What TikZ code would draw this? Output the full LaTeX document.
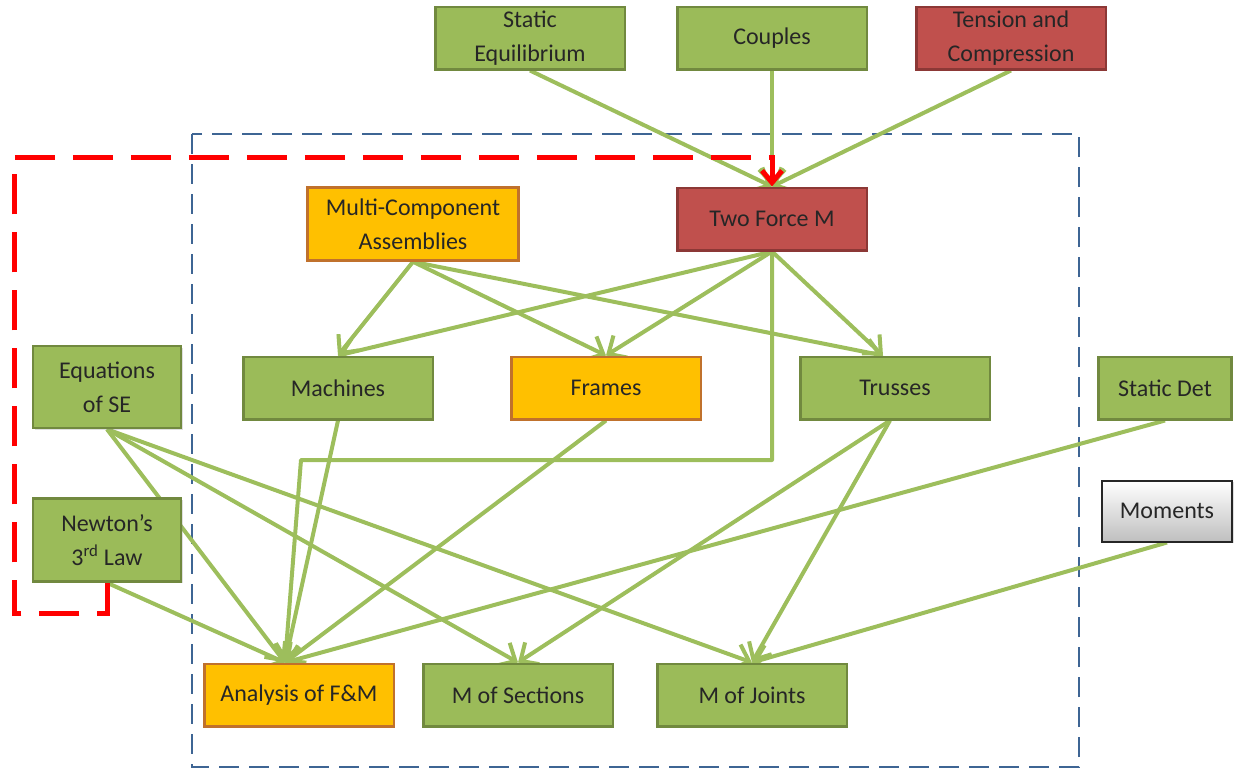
\documentclass[tikz,border=0pt]{standalone}
\usepackage{fontspec}
\setmainfont{Carlito}
\usetikzlibrary{arrows.meta,shadows}
\definecolor{boxgreen}{HTML}{9BBB59}
\definecolor{greenrim}{HTML}{71893F}
\definecolor{boxred}{HTML}{C0504D}
\definecolor{redrim}{HTML}{8C3836}
\definecolor{boxorange}{HTML}{FFC000}
\definecolor{orangerim}{HTML}{C0712C}
\definecolor{linkgreen}{HTML}{9DBE5C}
\definecolor{frameblue}{HTML}{3E6594}
\pgfdeclarelayer{edges}
\pgfdeclarelayer{back}
\pgfsetlayers{back,edges,main}
\begin{document}
\begin{tikzpicture}[x=1pt,y=-1pt,
  concept/.style={draw, line width=2.5pt, inner sep=0pt, align=center,
    font=\fontsize{24}{34}\selectfont, text=black!85,
    drop shadow={opacity=0.25,shadow xshift=1.5pt,shadow yshift=-1.5pt}},
  greenbox/.style={concept, fill=boxgreen, draw=greenrim},
  redbox/.style={concept, fill=boxred, draw=redrim},
  orangebox/.style={concept, fill=boxorange, draw=orangerim},
  graybox/.style={concept, top color=white, bottom color=black!25, draw=black!85, line width=2pt},
  wide/.style={minimum width=189.5pt, minimum height=62.5pt},
  link/.style={draw=linkgreen, line width=4pt, line join=round,
    -{Straight Barb[length=14pt,width=26pt]}},
  guide/.style={draw=red, line width=5pt, dash pattern=on 40pt off 18pt,
    -{Straight Barb[length=12pt,width=20pt]}}
]
\useasboundingbox (0,0) rectangle (1235,769);

% boxes
\node[greenbox, wide] (se) at (530,38) {Static\\Equilibrium};
\node[greenbox, wide] (cp) at (772,38) {Couples};
\node[redbox, wide] (tc) at (1011,38) {Tension and\\Compression};
\node[orangebox, minimum width=211pt, minimum height=73pt] (mca) at (413,224) {Multi-Component\\Assemblies};
\node[redbox, wide] (tfm) at (772,219) {Two Force M};
\node[greenbox, wide] (mach) at (338,388) {Machines};
\node[orangebox, wide] (fr) at (606,388) {Frames};
\node[greenbox, wide] (tr) at (895,388) {Trusses};
\node[greenbox, minimum width=148pt, minimum height=82pt] (eq) at (107,387) {Equations\\of SE};
\node[greenbox, minimum width=133pt, minimum height=62.5pt] (sd) at (1165,388) {Static Det};
\node[graybox, minimum width=130pt, minimum height=61pt] (mom) at (1167,511) {Moments};
\node[greenbox, minimum width=148pt, minimum height=83pt] (nw) at (107,540) {Newton’s\\3\textsuperscript{rd} Law};
\node[orangebox, wide] (an) at (299,695) {Analysis of F\&M};
\node[greenbox, wide] (ms) at (518,695) {M of Sections};
\node[greenbox, wide] (mj) at (752,695) {M of Joints};

% dashed frame round the member-analysis group
\begin{pgfonlayer}{back}
  \draw[frameblue, line width=2.5pt, dash pattern=on 20pt off 10pt]
    (192,134) rectangle (1079,767);
\end{pgfonlayer}

% dependencies
\begin{pgfonlayer}{edges}
  \coordinate (anin) at ([xshift=-14pt]an.north);
  \coordinate (trin) at ([xshift=-12pt]tr.north);
  \coordinate (bendA) at (tfm.south |- 0,460);
  \coordinate (bendB) at (301,460);

  \draw[link] (se.south) -- (tfm.north);
  \draw[link] (cp.south) -- (tfm.north);
  \draw[link] (tc.south) -- (tfm.north);

  \draw[link] (tfm.south) -- (mach.north);
  \draw[link] (tfm.south) -- (fr.north);
  \draw[link] (tfm.south) -- (trin);
  \draw[link] (tfm.south) -- (bendA) -- (bendB) -- (anin);

  \draw[link] (mca.south) -- (mach.north);
  \draw[link] (mca.south) -- (fr.north);
  \draw[link] (mca.south) -- (trin);

  \draw[link] (mach.south) -- (anin);
  \draw[link] (fr.south) -- (anin);
  \draw[link] ([xshift=-5pt]tr.south) -- (ms.north);
  \draw[link] ([xshift=-5pt]tr.south) -- (mj.north);

  \draw[link] (eq.south) -- (anin);
  \draw[link] (eq.south) -- (ms.north);
  \draw[link] (eq.south) -- (mj.north);
  \draw[link] (nw.south) -- (anin);

  \draw[link] (sd.south) -- (anin);
  \draw[link] (mom.south) -- (mj.north);
\end{pgfonlayer}

% red dashed route from Newton's 3rd Law to Two Force M
\coordinate (r1) at (nw.south |- 0,613);
\coordinate (r2) at (14,613);
\coordinate (r3) at (14,157);
\coordinate (r4) at (tfm.north |- 0,157);
\draw[guide] (nw.south) -- (r1) -- (r2) -- (r3) -- (r4) -- (tfm.north);
\end{tikzpicture}
\end{document}
